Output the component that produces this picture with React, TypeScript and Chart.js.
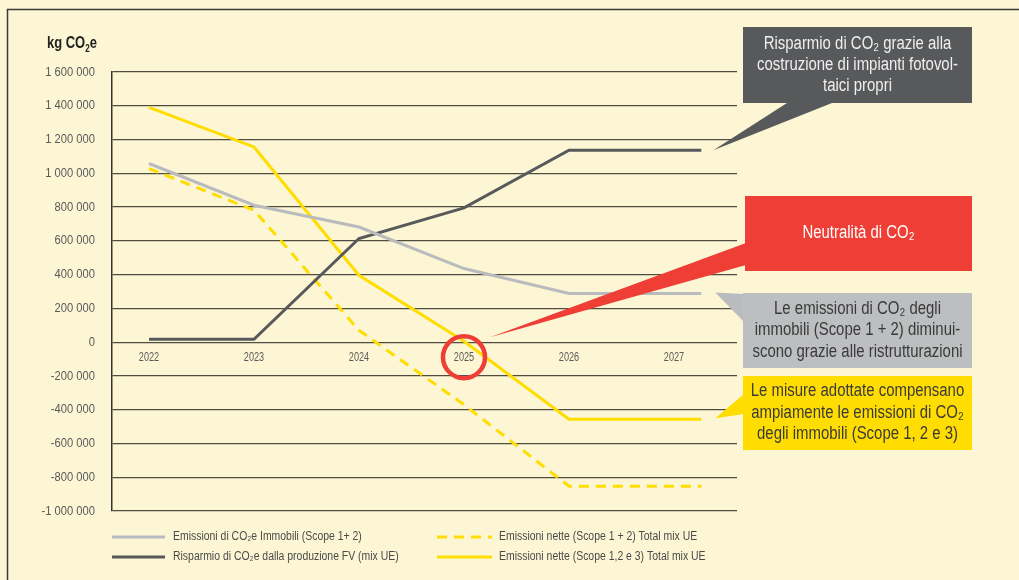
import { useEffect, useRef } from 'react';
import { Chart, registerables } from 'chart.js';
Chart.register(...registerables);

const FONT = "'Liberation Sans', Arial, sans-serif";

// x position of each data point (last point extends to the right of 2027 in the source)
const years = [2022, 2023, 2024, 2025, 2026, 2027.26];
const tickYears = [2022, 2023, 2024, 2025, 2026, 2027];
const immobili = [1058000, 811000, 682000, 436000, 288000, 288000];
const risparmio = [17000, 17000, 614000, 795000, 1137000, 1137000];
const nette12 = [1028000, 782000, 70000, -370000, -853000, -853000];
const nette123 = [1391000, 1156000, 396000, 5000, -456000, -456000];

const seriesLabels = [
  'Emissioni di CO₂e Immobili (Scope 1+ 2)',
  'Risparmio di CO₂e dalla produzione FV (mix UE)',
  'Emissioni nette (Scope 1 + 2) Total mix UE',
  'Emissioni nette (Scope 1,2 e 3) Total mix UE',
];

const GREY = '#b9bbbe';
const DARK = '#58595b';
const YELLOW = '#ffdd00';
const RED = '#ef3e36';
const BG = '#fdf6d4';

const fmt = (v: number) => {
  const neg = v < 0;
  const s = Math.abs(v).toString().replace(/\B(?=(\d{3})+(?!\d))/g, ' ');
  return (neg ? '-' : '') + s;
};

const toPts = (arr: number[]) => arr.map((y, i) => ({ x: years[i], y }));

// draws condensed text by horizontally scaling a regular face
function ctext(
  ctx: CanvasRenderingContext2D,
  t: string,
  x: number,
  y: number,
  font: string,
  sx: number,
  color: string,
  align: CanvasTextAlign = 'left',
  base: CanvasTextBaseline = 'middle'
) {
  ctx.save();
  ctx.translate(x, y);
  ctx.scale(sx, 1);
  ctx.font = font;
  ctx.fillStyle = color;
  ctx.textAlign = align;
  ctx.textBaseline = base;
  ctx.fillText(t, 0, 0);
  ctx.restore();
}

function drawBox(ctx: CanvasRenderingContext2D, x: number, y: number, w: number, h: number, fill: string, lines: string[], color: string, lh: number) {
  ctx.fillStyle = fill;
  ctx.fillRect(x, y, w, h);
  const cy = y + h / 2;
  const n = lines.length;
  lines.forEach((t, i) => {
    ctext(ctx, t, x + w / 2, cy + (i - (n - 1) / 2) * lh, `18px ${FONT}`, 0.83, color, 'center');
  });
}

function tri(ctx: CanvasRenderingContext2D, pts: number[][], fill: string) {
  ctx.beginPath();
  ctx.moveTo(pts[0][0], pts[0][1]);
  for (let i = 1; i < pts.length; i++) ctx.lineTo(pts[i][0], pts[i][1]);
  ctx.closePath();
  ctx.fillStyle = fill;
  ctx.fill();
}

const bgPlugin = {
  id: 'bg',
  beforeDraw(chart: any) {
    const ctx = chart.ctx as CanvasRenderingContext2D;
    ctx.save();
    ctx.fillStyle = BG;
    ctx.fillRect(0, 0, chart.width, chart.height);
    ctx.strokeStyle = '#3a3a3a';
    ctx.lineWidth = 1.5;
    ctx.beginPath();
    ctx.moveTo(7.5, chart.height + 5);
    ctx.lineTo(7.5, 9.5);
    ctx.lineTo(chart.width + 5, 9.5);
    ctx.stroke();
    ctx.restore();
  },
};

const overlayPlugin = {
  id: 'overlay',
  afterDraw(chart: any) {
    const ctx = chart.ctx as CanvasRenderingContext2D;
    const xs = chart.scales.x;
    const ys = chart.scales.y;
    const last = years.length - 1;
    const px = (v: number) => xs.getPixelForValue(v);
    const py = (v: number) => ys.getPixelForValue(v);
    ctx.save();

    // tick labels (from the library's scales)
    ys.ticks.forEach((t: any) => {
      ctext(ctx, fmt(t.value), 95, py(t.value), `13px ${FONT}`, 0.86, '#58595b', 'right');
    });
    xs.ticks.forEach((t: any) => {
      ctext(ctx, String(t.value), px(t.value), py(0) + 16, `12px ${FONT}`, 0.76, '#5a5a5a', 'center');
    });

    // y-axis title
    ctx.save();
    ctx.translate(47, 48);
    ctx.scale(0.81, 1);
    ctx.fillStyle = '#222';
    ctx.textAlign = 'left';
    ctx.textBaseline = 'alphabetic';
    ctx.font = `bold 16px ${FONT}`;
    let tx = 0;
    ctx.fillText('kg CO', tx, 0);
    tx += ctx.measureText('kg CO').width;
    ctx.font = `bold 10px ${FONT}`;
    ctx.fillText('2', tx, 4);
    tx += ctx.measureText('2').width;
    ctx.font = `bold 16px ${FONT}`;
    ctx.fillText('e', tx, 0);
    ctx.restore();

    // pointers
    const bx = px(years[last]);
    tri(ctx, [[787, 103], [832, 103], [bx + 12, py(risparmio[last])]], DARK);
    tri(ctx, [[746, 243], [746, 265], [px(2025) + 26, py(0) - 5]], RED);
    tri(ctx, [[744, 294], [744, 322], [bx + 14, py(immobili[last]) - 1]], GREY);
    tri(ctx, [[744, 394], [744, 414], [bx + 14, py(nette123[last]) - 1]], YELLOW);

    // boxes
    drawBox(ctx, 743, 27, 229, 76, DARK, ['Risparmio di CO₂ grazie alla', 'costruzione di impianti fotovol-', 'taici propri'], '#efefef', 21);
    drawBox(ctx, 745, 196, 227, 75, RED, ['Neutralità di CO₂'], '#ffffff', 21);
    drawBox(ctx, 743, 293, 229, 75, '#bcbec0', ['Le emissioni di CO₂ degli', 'immobili (Scope 1 + 2) diminui-', 'scono grazie alle ristrutturazioni'], '#3a3a3a', 21.5);
    drawBox(ctx, 743, 376, 229, 74, YELLOW, ['Le misure adottate compensano', 'ampiamente le emissioni di CO₂', 'degli immobili (Scope 1, 2 e 3)'], '#3a3a3a', 21.5);

    // red circle around 2025
    ctx.beginPath();
    ctx.arc(px(2025), py(0) + 15, 21, 0, Math.PI * 2);
    ctx.strokeStyle = RED;
    ctx.lineWidth = 4.5;
    ctx.stroke();

    // legend
    const items = [
      { x0: 112, x1: 165, tx: 173, y: 537, color: GREY, dash: [] as number[], label: seriesLabels[0] },
      { x0: 112, x1: 165, tx: 173, y: 557, color: DARK, dash: [] as number[], label: seriesLabels[1] },
      { x0: 437, x1: 492, tx: 499, y: 537, color: YELLOW, dash: [10, 7], label: seriesLabels[2] },
      { x0: 437, x1: 492, tx: 499, y: 557, color: YELLOW, dash: [] as number[], label: seriesLabels[3] },
    ];
    items.forEach((it) => {
      ctx.beginPath();
      ctx.setLineDash(it.dash);
      ctx.strokeStyle = it.color;
      ctx.lineWidth = 3;
      ctx.moveTo(it.x0, it.y);
      ctx.lineTo(it.x1, it.y);
      ctx.stroke();
      ctx.setLineDash([]);
      ctext(ctx, it.label, it.tx, it.y, `12px ${FONT}`, 0.87, '#4a4a4a', 'left');
    });
    ctx.restore();
  },
};

export default function App() {
  const ref = useRef<HTMLCanvasElement>(null);
  useEffect(() => {
    const chart = new Chart(ref.current!, {
      type: 'line',
      data: {
        datasets: [
          { label: seriesLabels[0], data: toPts(immobili), borderColor: GREY, borderWidth: 3 },
          { label: seriesLabels[1], data: toPts(risparmio), borderColor: DARK, borderWidth: 3 },
          { label: seriesLabels[2], data: toPts(nette12), borderColor: YELLOW, borderWidth: 3, borderDash: [10, 7] },
          { label: seriesLabels[3], data: toPts(nette123), borderColor: YELLOW, borderWidth: 3 },
        ],
      },
      options: {
        responsive: false,
        animation: false,
        layout: { padding: { top: 72, right: 282, bottom: 69, left: 0 } },
        elements: { point: { radius: 0 }, line: { tension: 0, borderCapStyle: 'butt', borderJoinStyle: 'miter' } },
        plugins: { legend: { display: false }, tooltip: { enabled: false } },
        scales: {
          x: {
            type: 'linear',
            position: { y: 0 } as any,
            min: 2021.648,
            max: 2027.6,
            grid: { display: false, drawTicks: false },
            border: { display: false },
            afterBuildTicks: (s: any) => {
              s.ticks = tickYears.map((v) => ({ value: v }));
            },
            ticks: { display: false },
          },
          y: {
            min: -1000000,
            max: 1600000,
            afterFit: (s: any) => {
              s.width = 112;
            },
            grid: { color: '#514c40', lineWidth: 1.3, drawTicks: false },
            border: { color: '#333', width: 1.5 },
            ticks: { stepSize: 200000, display: false },
          },
        },
      },
      plugins: [bgPlugin, overlayPlugin],
    });
    return () => chart.destroy();
  }, []);
  return (
    <div style={{ position: 'fixed', left: 0, top: 0, width: 1019, height: 580, background: BG }}>
      <canvas ref={ref} width={1019} height={580} />
    </div>
  );
}
